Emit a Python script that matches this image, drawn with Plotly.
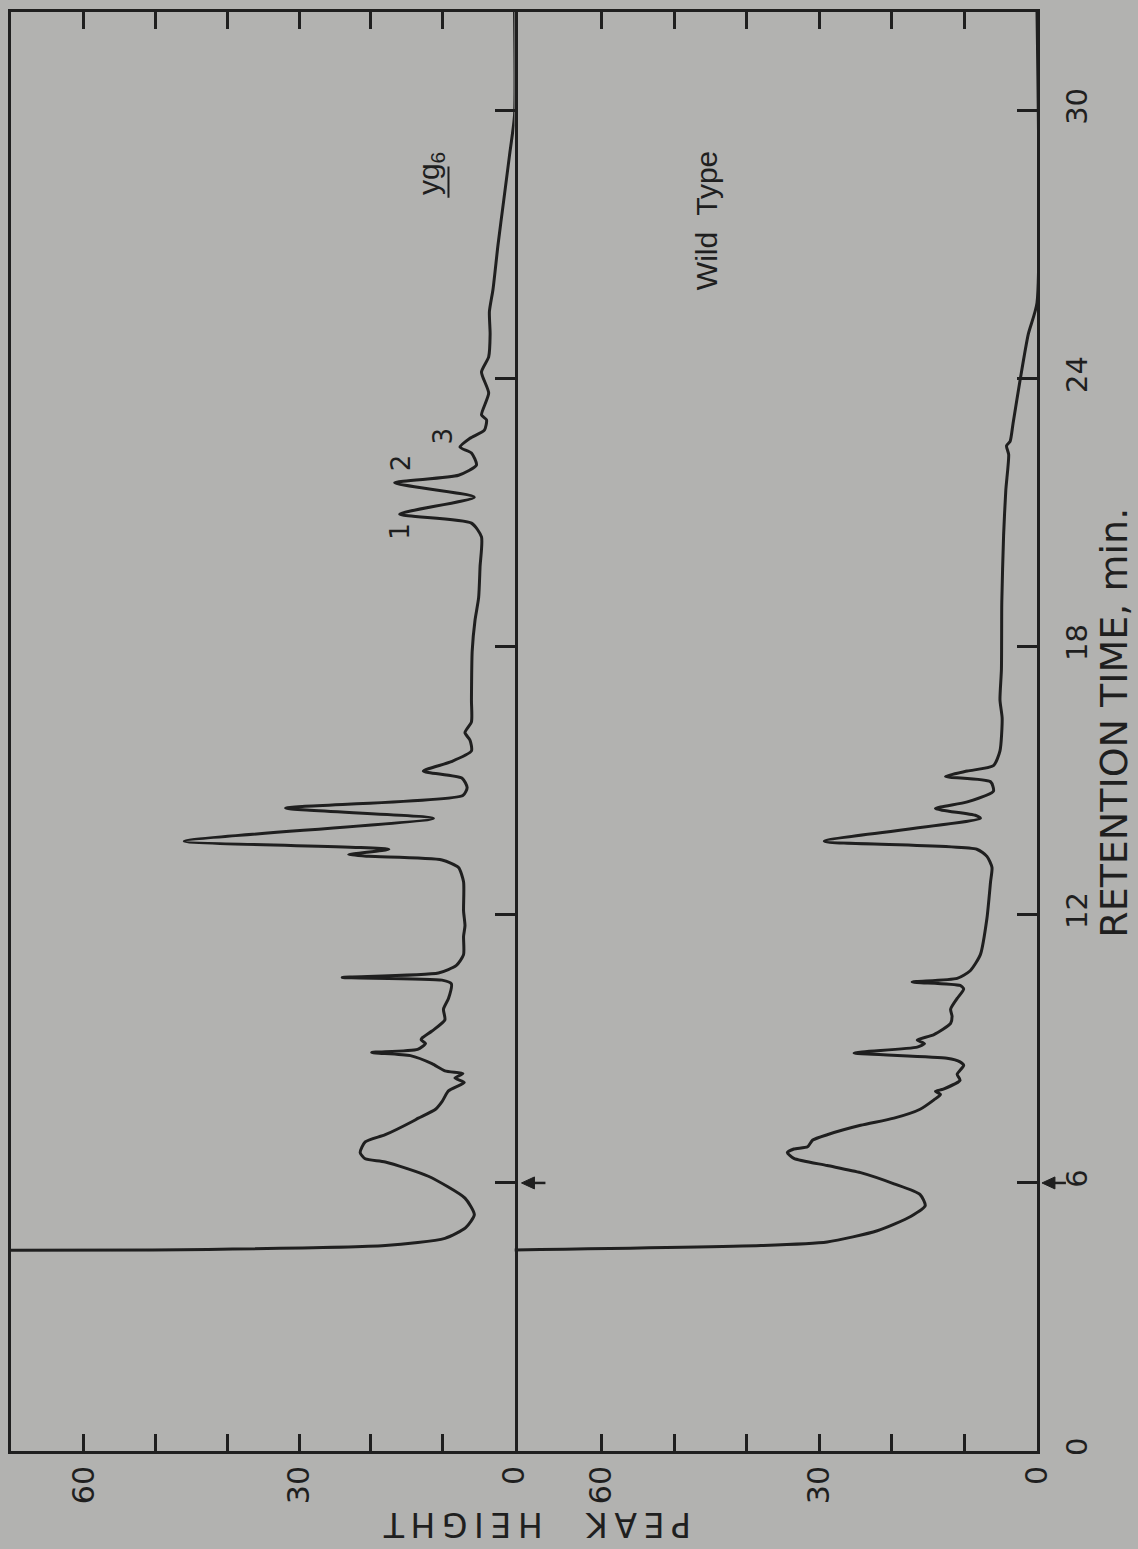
import plotly.graph_objects as go

# Retention time (min) and peak height for the yg6 chromatogram
yg6_time = [4.49, 4.50, 4.60, 4.76, 5.00, 5.29, 5.66, 6.15, 6.47, 6.54, 6.68, 6.92, 7.08, 7.37, 7.45,
            7.65, 7.82, 8.06, 8.25, 8.35, 8.45, 8.51, 8.67, 8.85, 8.92, 8.99, 9.12, 9.20, 9.24, 9.40,
            9.65, 9.89, 10.13, 10.46, 10.54, 10.60, 10.70, 10.87, 11.11, 11.52, 11.76, 12.09, 12.74,
            13.06, 13.23, 13.31, 13.35, 13.47, 13.65, 14.16, 14.39, 14.67, 14.85, 15.06, 15.22, 15.43,
            15.67, 15.91, 16.08, 16.32, 16.81, 17.90, 18.60, 19.10, 19.80, 20.46, 20.77, 20.97, 21.35,
            21.67, 21.84, 22.07, 22.34, 22.47, 22.67, 22.85, 23.08, 23.19, 23.68, 24.15, 24.49, 25.00,
            25.50, 26.00, 27.00, 28.00, 29.00, 29.90, 32.21]
yg6_height = [75, 50.4, 18.0, 9.7, 6.8, 5.6, 6.9, 12.0, 18.0, 20.8, 21.5, 20.8, 18.0, 14.3, 13.4,
              11.0, 10.1, 9.2, 7.0, 8.3, 7.2, 9.7, 11.5, 14.5, 19.9, 13.5, 12.4, 13.0, 12.9, 11.5,
              9.7, 9.9, 9.2, 8.8, 10.1, 24.0, 10.6, 8.1, 7.1, 7.1, 6.9, 7.1, 7.1,
              7.8, 10.1, 20.3, 23.1, 17.5, 46.0, 11.3, 31.9, 7.2, 6.6, 7.3, 12.7, 8.8,
              6.0, 6.2, 6.9, 6.0, 6.0, 5.9, 5.5, 5.0, 4.8, 4.6, 6.0, 16.0, 5.6,
              16.7, 7.8, 5.3, 6.0, 7.6, 6.2, 4.2, 3.9, 4.6, 3.6, 4.6, 3.6, 3.4,
              3.5, 3.0, 2.3, 1.5, 0.7, 0.0, 0.0]

# Retention time (min) and peak height for the wild-type chromatogram
wt_time = [4.50, 4.60, 4.68, 4.93, 5.25, 5.49, 5.74, 5.98, 6.23, 6.39, 6.55, 6.68, 6.76, 6.81, 6.96,
           7.08, 7.29, 7.45, 7.65, 7.86, 7.98, 8.05, 8.10, 8.30, 8.43, 8.63, 8.71, 8.79, 8.91, 9.04,
           9.12, 9.20, 9.32, 9.57, 9.73, 9.89, 10.13, 10.34, 10.42, 10.50, 10.58, 10.75, 11.11, 11.92,
           12.74, 13.06, 13.31, 13.47, 13.65, 14.16, 14.23, 14.38, 14.53, 14.77, 14.98, 15.10, 15.22,
           15.34, 15.67, 16.40, 16.81, 17.50, 19.00, 20.50, 21.50, 22.30, 22.50, 22.60, 23.00, 24.00,
           25.00, 25.70, 32.21]
wt_height = [72.0, 38.0, 28.9, 22.0, 17.4, 15.4, 16.1, 19.7, 24.3, 28.9, 33.5, 34.4, 33.5, 31.6, 30.9,
             28.9, 24.3, 19.7, 16.1, 14.2, 13.3, 14.0, 12.9, 10.6, 11.0, 10.1, 10.6, 12.4, 25.2, 16.5,
             15.5, 16.5, 14.2, 11.9, 11.7, 11.9, 11.0, 10.1, 10.6, 17.2, 11.0, 9.2, 7.8, 6.9,
             6.4, 6.2, 6.9, 8.3, 29.3, 7.8, 8.5, 14.0, 9.6, 6.0, 6.4, 12.6, 9.6,
             6.0, 5.1, 4.8, 5.1, 4.9, 4.85, 4.6, 4.3, 3.9, 4.2, 3.7, 3.3, 2.3,
             1.2, 0.0, 0.0]

height_ticks = [0, 10, 20, 30, 40, 50, 60]
height_labels = ["0", "", "", "30", "", "", "60"]
time_ticks = [0, 6, 12, 18, 24, 30]
time_labels = ["0", "6", "12", "18", "24", "30"]
injection_time = 6

INK = "#1f1f1f"
PAPER = "#b2b2b0"
FONT = "DejaVu Sans"

W, H = 1138, 1549
ML, MR, MT, MB = 8, 101, 12, 98
split = (513 - ML) / (W - ML - MR)
t_max = 32.21

fig = go.Figure()
fig.add_trace(go.Scatter(x=yg6_height, y=yg6_time, mode="lines", xaxis="x", yaxis="y",
                         line=dict(color=INK, width=3, shape="spline", smoothing=0.6),
                         showlegend=False, hoverinfo="skip"))
fig.add_trace(go.Scatter(x=wt_height, y=wt_time, mode="lines", xaxis="x2", yaxis="y2",
                         line=dict(color=INK, width=3, shape="spline", smoothing=0.6),
                         showlegend=False, hoverinfo="skip"))

height_axis = dict(
    tickvals=height_ticks, ticktext=height_labels, ticks="inside", ticklen=17, tickwidth=3,
    tickcolor=INK, showline=True, linewidth=3, linecolor=INK, mirror="ticks",
    showgrid=False, zeroline=False, tickangle=-90, ticklabelstandoff=0,
    tickfont=dict(family=FONT, size=30, color=INK),
)
time_axis = dict(
    range=[0, t_max], side="right", tickvals=time_ticks, ticktext=time_labels,
    ticks="inside", ticklen=20, tickwidth=3, tickcolor=INK, showline=True, linewidth=3,
    linecolor=INK, showgrid=False, zeroline=False,
)

fig.update_layout(
    width=W, height=H,
    margin=dict(l=ML, r=MR, t=MT, b=MB),
    paper_bgcolor=PAPER, plot_bgcolor=PAPER,
    xaxis=dict(domain=[0, split], range=[(513 - ML) / 7.2, 0], anchor="y", **height_axis),
    xaxis2=dict(domain=[split, 1], range=[(1037 - 513) / 7.28, 0], anchor="y2", **height_axis),
    yaxis=dict(anchor="x", showticklabels=False, mirror=True, **time_axis),
    yaxis2=dict(anchor="x2", showticklabels=True, tickangle=-90, ticklabelstandoff=12,
                tickfont=dict(family=FONT, size=29, color=INK), **time_axis),
)


def px(x):
    return (x - ML) / (W - ML - MR)


def py(y):
    return (H - MB - y) / (H - MT - MB)


def label(text, xref, yref, x, y, angle, size, family=FONT):
    return dict(text=text, xref=xref, yref=yref, x=x, y=y, showarrow=False, textangle=angle,
                xanchor="center", yanchor="middle", font=dict(family=family, size=size, color=INK))


annotations = [
    label("P\u2009E\u2009A\u2009K\u2003 H\u2009E\u2009I\u2009G\u2009H\u2009T", "paper", "paper",
          px(535), py(1525), 180, 33),
    label("RETENTION TIME, min.", "paper", "paper", px(1114), py(723), -90, 38),
    label("yg<sub>6</sub>", "x", "y", 11.8, 28.6, -90, 30, "Liberation Sans"),
    label("Wild  Type", "x2", "y2", 45.6, 27.55, -90, 30, "Liberation Sans"),
    label("1", "x", "y", 16.0, 20.59, -90, 26),
    label("2", "x", "y", 15.7, 22.13, -90, 26),
    label("3", "x", "y", 9.9, 22.72, -90, 26),
]
fig.update_layout(annotations=annotations)

# underline beneath the "yg" of the genotype label
fig.add_shape(type="line", xref="x", yref="y", x0=9.2, x1=9.2, y0=28.05, y1=28.75,
              line=dict(color=INK, width=2))

# injection markers (small arrows pointing at the 6 min position)
t6 = (H - MB) - injection_time * (H - MT - MB) / t_max
for tip in (520, 1042):
    fig.add_shape(type="line", xref="paper", yref="paper", x0=px(tip + 8), x1=px(tip + 24),
                  y0=py(t6), y1=py(t6), line=dict(color=INK, width=2.5))
    path = "M {:.5f},{:.5f} L {:.5f},{:.5f} L {:.5f},{:.5f} Z".format(
        px(tip), py(t6), px(tip + 13), py(t6 - 6), px(tip + 13), py(t6 + 6))
    fig.add_shape(type="path", xref="paper", yref="paper", path=path,
                  fillcolor=INK, line=dict(color=INK, width=1))

fig.write_html("out.html")
